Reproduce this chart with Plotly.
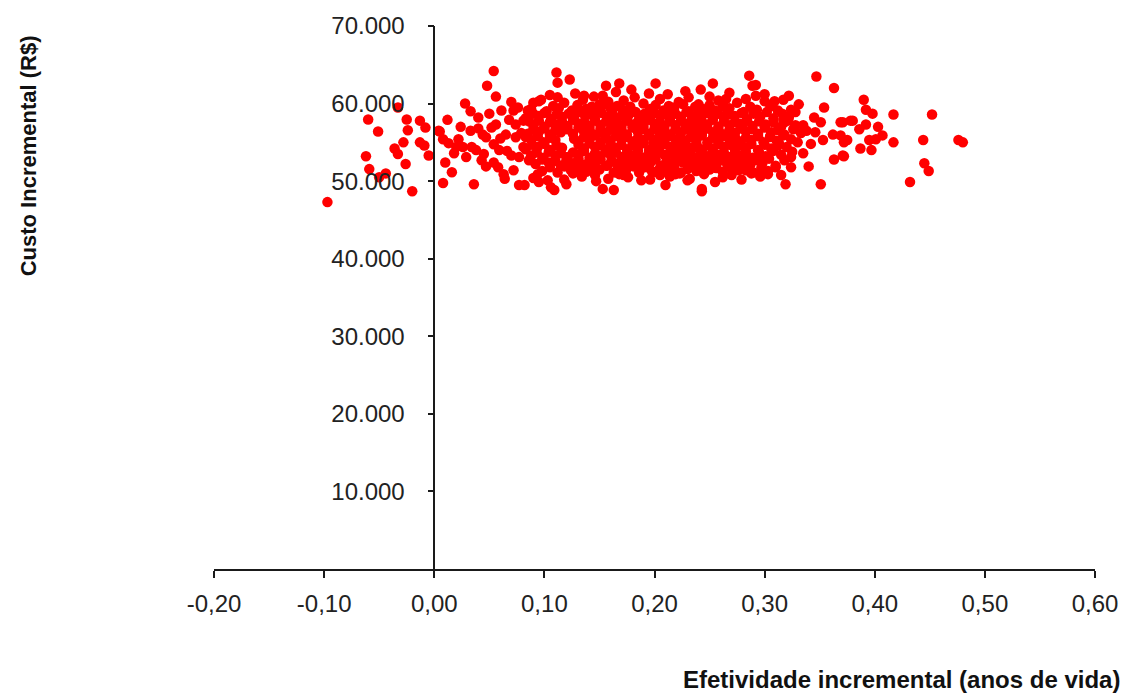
import plotly.graph_objects as go

# Tick labels
x_tickvals = [-0.2, -0.1, 0.0, 0.1, 0.2, 0.3, 0.4, 0.5, 0.6]
x_ticktext = ["-0,20", "-0,10", "0,00", "0,10", "0,20", "0,30", "0,40", "0,50", "0,60"]
y_tickvals = [10000, 20000, 30000, 40000, 50000, 60000, 70000]
y_ticktext = ["10.000", "20.000", "30.000", "40.000", "50.000", "60.000", "70.000"]

# Points with negative / near-zero effectiveness
neg_x = [-0.097, -0.060, -0.062, -0.059, -0.051, -0.050, -0.044, -0.036, -0.033, -0.033,
         -0.028, -0.025, -0.024, -0.026, -0.020, -0.013, -0.013, -0.008, -0.009, -0.005]
neg_y = [47300, 57950, 53200, 51550, 56400, 50500, 51000, 54200, 53500, 59500,
         55000, 57950, 56550, 52200, 48700, 57800, 55000, 56900, 54600, 53300]

# Points between 0 and ~0.085
low_x = [0.004, 0.054, 0.048, 0.056, 0.028, 0.033, 0.040, 0.005, 0.008, 0.013,
         0.022, 0.033, 0.026, 0.029, 0.010, 0.016, 0.008, 0.036, 0.043, 0.038,
         0.047, 0.052, 0.056, 0.061, 0.054, 0.063, 0.072, 0.077, 0.070, 0.059,
         0.072, 0.076, 0.065, 0.074, 0.074, 0.077, 0.081, 0.081, 0.054, 0.044,
         0.034, 0.020, 0.085, 0.082,
         0.045, 0.060, 0.066, 0.068, 0.050, 0.040, 0.058, 0.018, 0.024, 0.064,
         0.079, 0.047, 0.012, 0.070]
low_y = [56500, 64200, 62300, 60900, 60000, 59000, 58200, 56400, 55400, 54900,
         55400, 56500, 54400, 53100, 52400, 51150, 49750, 49600, 52700, 54000,
         55650, 56900, 57300, 59100, 52400, 50900, 51400, 49500, 53300, 54000,
         59100, 59500, 56000, 57300, 55650, 53100, 54400, 57800, 54750, 56000,
         54400, 54400, 59100, 49500,
         53500, 55500, 53900, 57900, 58700, 56800, 51800, 53600, 57000, 50300,
         56200, 51900, 57900, 60200]

# Dense core of the cloud (main rows)
core_x = [
    0.095, 0.118, 0.135, 0.150, 0.172, 0.190, 0.205, 0.222, 0.240, 0.258, 0.275, 0.300,
    0.088, 0.102, 0.113, 0.125, 0.138, 0.148, 0.160, 0.171, 0.183, 0.196, 0.208, 0.218,
    0.231, 0.244, 0.255, 0.268, 0.281, 0.293, 0.312,
    0.083, 0.095, 0.106, 0.116, 0.127, 0.137, 0.146, 0.157, 0.166, 0.176, 0.186, 0.195,
    0.205, 0.214, 0.224, 0.234, 0.243, 0.253, 0.263, 0.273, 0.284, 0.296, 0.308, 0.322,
    0.090, 0.100, 0.110, 0.121, 0.131, 0.141, 0.151, 0.161, 0.170, 0.180, 0.190, 0.200,
    0.209, 0.219, 0.229, 0.238, 0.248, 0.258, 0.268, 0.278, 0.289, 0.301, 0.315, 0.328,
    0.085, 0.095, 0.105, 0.115, 0.126, 0.136, 0.146, 0.156, 0.165, 0.175, 0.185, 0.195,
    0.204, 0.214, 0.224, 0.233, 0.243, 0.253, 0.263, 0.273, 0.283, 0.294, 0.306, 0.318, 0.333,
    0.088, 0.099, 0.110, 0.131, 0.141, 0.151, 0.160, 0.170, 0.180, 0.190, 0.199, 0.209,
    0.219, 0.228, 0.238, 0.248, 0.258, 0.268, 0.278, 0.288, 0.299, 0.311, 0.324,
    0.083, 0.094, 0.105, 0.116, 0.136, 0.146, 0.156, 0.165, 0.175, 0.185, 0.195, 0.204,
    0.214, 0.224, 0.233, 0.243, 0.253, 0.263, 0.273, 0.283, 0.294, 0.306, 0.320,
    0.088, 0.099, 0.110, 0.121, 0.131, 0.141, 0.151, 0.160, 0.170, 0.180, 0.190, 0.199,
    0.209, 0.219, 0.228, 0.238, 0.248, 0.258, 0.268, 0.278, 0.289, 0.301, 0.315,
    0.092, 0.104, 0.115, 0.126, 0.136, 0.146, 0.156, 0.166, 0.176, 0.186, 0.196, 0.206,
    0.216, 0.226, 0.236, 0.246, 0.256, 0.266, 0.276, 0.287, 0.298, 0.310,
    0.098, 0.112, 0.124, 0.138, 0.150, 0.163, 0.174, 0.187, 0.199, 0.212, 0.224, 0.238,
    0.250, 0.262, 0.276, 0.290, 0.303,
    0.090, 0.118, 0.134, 0.158, 0.176, 0.196, 0.214, 0.232, 0.262, 0.279, 0.296,
]
core_y = [
    60300, 60100, 60500, 59900, 60400, 60000, 60600, 60200, 59900, 60400, 60100, 60300,
    59300, 59000, 59400, 59100, 59300, 58900, 59400, 59200, 58900, 59300, 59100, 59500,
    59000, 59300, 59100, 59400, 58900, 59200, 59100,
    58100, 58400, 58000, 58300, 58100, 58400, 58000, 58300, 58100, 58400, 58000, 58200,
    58400, 58000, 58300, 58100, 58400, 58000, 58200, 58400, 58000, 58300, 58100, 58200,
    57300, 57000, 57300, 57100, 57400, 57000, 57200, 57400, 57000, 57300, 57100, 57400,
    57000, 57200, 57400, 57100, 57300, 57000, 57200, 57400, 57100, 57300, 57000, 57200,
    56100, 56400, 56000, 56300, 56100, 56400, 56000, 56200, 56400, 56000, 56300, 56100,
    56400, 56000, 56200, 56400, 56100, 56300, 56000, 56200, 56400, 56100, 56300, 56000, 56200,
    55300, 55000, 55300, 55100, 55400, 55000, 55200, 55400, 55100, 55300, 55000, 55200,
    55400, 55100, 55300, 55000, 55200, 55400, 55100, 55300, 55000, 55200, 55400,
    54100, 54400, 54000, 54300, 54200, 54400, 54000, 54300, 54100, 54400, 54000, 54200,
    54400, 54100, 54300, 54000, 54200, 54400, 54100, 54300, 54000, 54200, 54400,
    53300, 53000, 53300, 53100, 53400, 53000, 53200, 53400, 53100, 53300, 53000, 53200,
    53400, 53100, 53300, 53000, 53200, 53400, 53100, 53300, 53000, 53200, 53400,
    52200, 52400, 52000, 52300, 52100, 52400, 52000, 52200, 52400, 52100, 52300, 52000,
    52200, 52400, 52100, 52300, 52000, 52200, 52400, 52100, 52300, 52000,
    51300, 51100, 51400, 51200, 51500, 51100, 51300, 51500, 51200, 51400, 51100, 51300,
    51500, 51200, 51400, 51100, 51300,
    50400, 50200, 50600, 50300, 50500, 50200, 50600, 50300, 50500, 50200, 50600,
]

# Dense core of the cloud (points lying between the main rows)
core_between = [
    (0.108, 59700), (0.130, 59800), (0.143, 59600), (0.155, 59900), (0.166, 59700),
    (0.178, 59600), (0.201, 59800), (0.213, 59700), (0.226, 59900), (0.237, 59600),
    (0.250, 59800), (0.262, 59700), (0.287, 59600), (0.305, 59800),
    (0.090, 58700), (0.100, 58800), (0.111, 58600), (0.122, 58700), (0.132, 58900),
    (0.142, 58600), (0.152, 58800), (0.162, 58700), (0.171, 58600), (0.181, 58900),
    (0.191, 58700), (0.200, 58800), (0.210, 58600), (0.219, 58700), (0.229, 58900),
    (0.239, 58600), (0.248, 58800), (0.258, 58700), (0.268, 58600), (0.279, 58800),
    (0.290, 58700), (0.302, 58900), (0.316, 58700),
    (0.086, 57700), (0.095, 57800), (0.105, 57600), (0.116, 57700), (0.126, 57900),
    (0.136, 57600), (0.146, 57800), (0.156, 57700), (0.166, 57600), (0.175, 57800),
    (0.185, 57700), (0.195, 57900), (0.205, 57600), (0.214, 57700), (0.224, 57800),
    (0.234, 57600), (0.243, 57700), (0.253, 57900), (0.263, 57700), (0.273, 57600),
    (0.284, 57800), (0.295, 57700), (0.308, 57600), (0.321, 57800),
    (0.090, 56700), (0.100, 56800), (0.110, 56600), (0.121, 56700), (0.131, 56900),
    (0.141, 56600), (0.151, 56800), (0.160, 56700), (0.170, 56600), (0.180, 56900),
    (0.190, 56700), (0.200, 56800), (0.209, 56600), (0.219, 56700), (0.228, 56900),
    (0.238, 56600), (0.248, 56800), (0.258, 56700), (0.268, 56600), (0.278, 56800),
    (0.289, 56700), (0.300, 56900), (0.312, 56600), (0.326, 56700),
    (0.083, 55700), (0.094, 55800), (0.105, 55600), (0.136, 55700), (0.146, 55900),
    (0.156, 55600), (0.165, 55800), (0.175, 55700), (0.185, 55600), (0.195, 55900),
    (0.204, 55700), (0.214, 55800), (0.224, 55600), (0.233, 55700), (0.243, 55900),
    (0.253, 55600), (0.263, 55800), (0.273, 55700), (0.283, 55600), (0.294, 55800),
    (0.305, 55700), (0.317, 55900),
    (0.089, 54700), (0.100, 54800), (0.111, 54600), (0.131, 54700), (0.141, 54900),
    (0.151, 54600), (0.160, 54800), (0.170, 54700), (0.180, 54600), (0.190, 54900),
    (0.199, 54700), (0.209, 54800), (0.219, 54600), (0.228, 54700), (0.238, 54900),
    (0.248, 54600), (0.258, 54800), (0.268, 54700), (0.278, 54600), (0.288, 54800),
    (0.300, 54700), (0.313, 54900),
    (0.093, 53700), (0.104, 53800), (0.115, 53600), (0.126, 53700), (0.136, 53900),
    (0.146, 53600), (0.156, 53800), (0.165, 53700), (0.175, 53600), (0.185, 53900),
    (0.195, 53700), (0.204, 53800), (0.214, 53600), (0.224, 53700), (0.233, 53900),
    (0.243, 53600), (0.253, 53800), (0.263, 53700), (0.273, 53600), (0.283, 53800),
    (0.295, 53700), (0.308, 53900),
    (0.086, 52700), (0.098, 52800), (0.110, 52600), (0.120, 52700), (0.131, 52900),
    (0.141, 52600), (0.151, 52800), (0.161, 52700), (0.171, 52600), (0.181, 52900),
    (0.191, 52700), (0.201, 52800), (0.211, 52600), (0.221, 52700), (0.231, 52900),
    (0.241, 52600), (0.251, 52800), (0.261, 52700), (0.271, 52600), (0.282, 52800),
    (0.293, 52700), (0.304, 52900), (0.318, 52700),
    (0.105, 51800), (0.118, 51900), (0.131, 51700), (0.144, 51800), (0.157, 52000),
    (0.169, 51700), (0.181, 51900), (0.193, 51800), (0.205, 51700), (0.218, 51900),
    (0.231, 51800), (0.244, 52000), (0.256, 51700), (0.269, 51800), (0.283, 51900),
    (0.297, 51700), (0.310, 51800),
    (0.094, 50900), (0.126, 51000), (0.146, 50800), (0.168, 50900), (0.186, 51100),
    (0.205, 50800), (0.223, 51000), (0.245, 50900), (0.270, 50800), (0.288, 51000),
]

# Extra points filling small holes in the densest part
core_fill = [
    (0.152, 56250), (0.171, 55650), (0.188, 57150), (0.207, 56150), (0.226, 55250),
    (0.244, 57250), (0.161, 54250), (0.183, 53250), (0.202, 54750), (0.221, 53650),
    (0.240, 54250), (0.259, 56250), (0.176, 58750), (0.196, 58250), (0.216, 59250),
    (0.236, 58250), (0.255, 53250), (0.272, 55250), (0.145, 52650), (0.166, 52150),
    (0.187, 51650), (0.211, 52250), (0.230, 51550), (0.251, 52350), (0.139, 57250),
    (0.127, 55450), (0.118, 56750), (0.280, 57250), (0.266, 58650), (0.158, 60250),
]

# Upper and lower fringe of the cloud
fringe_x = [0.111, 0.112, 0.123, 0.156, 0.168, 0.179, 0.112, 0.097, 0.090, 0.136,
            0.153, 0.109, 0.106, 0.153, 0.163, 0.103, 0.120, 0.095, 0.147, 0.172,
            0.127, 0.201, 0.253, 0.286, 0.289, 0.242, 0.195, 0.265, 0.231, 0.283,
            0.210, 0.243, 0.243, 0.255, 0.230, 0.188, 0.219, 0.198, 0.283,
            0.128, 0.145, 0.165, 0.182, 0.212, 0.228, 0.250, 0.268, 0.292, 0.105]
fringe_y = [64000, 62700, 63100, 62300, 62600, 61800, 60800, 60500, 60100, 61000,
            61000, 48850, 49200, 49000, 48850, 50100, 49600, 49900, 50000, 50800,
            51150, 62600, 62600, 63600, 62300, 61800, 61300, 60600, 60800, 60600,
            49500, 49000, 48700, 49900, 50100, 50100, 50900, 51150, 51400,
            61300, 60900, 61500, 60800, 61200, 61600, 60900, 61400, 61000, 61100]

# Right-hand, sparser part of the cloud
right_x = [0.347, 0.363, 0.292, 0.390, 0.392, 0.354, 0.351, 0.335, 0.346, 0.353,
           0.362, 0.369, 0.378, 0.386, 0.392, 0.369, 0.375, 0.387, 0.372, 0.363,
           0.340, 0.351, 0.319, 0.315, 0.303, 0.324, 0.324, 0.331, 0.317, 0.324,
           0.317, 0.307, 0.398, 0.417, 0.452, 0.380, 0.371, 0.403, 0.407, 0.401,
           0.395, 0.372, 0.417, 0.444, 0.476, 0.480, 0.397, 0.371, 0.445, 0.449,
           0.432, 0.305, 0.312, 0.318, 0.325, 0.330, 0.338, 0.335, 0.342, 0.345,
           0.328, 0.309, 0.300, 0.322]
right_y = [63500, 62000, 62400, 60500, 59200, 59500, 57600, 57200, 56300, 55300,
           56000, 57600, 57800, 56700, 57300, 55900, 55300, 54200, 53200, 52800,
           51900, 49600, 49600, 50800, 50900, 51800, 53100, 59900, 60500, 59200,
           57900, 59700, 58700, 58600, 58600, 57800, 57600, 57000, 55900, 55400,
           55300, 55000, 55000, 55300, 55300, 55000, 54000, 53300, 52300, 51300,
           49900, 55800, 54600, 57600, 53800, 55000, 56500, 53600, 54800, 58200,
           58900, 60300, 61200, 61000]

between_x = [p[0] for p in core_between] + [p[0] for p in core_fill]
between_y = [p[1] for p in core_between] + [p[1] for p in core_fill]

xs = neg_x + low_x + core_x + between_x + fringe_x + right_x
ys = neg_y + low_y + core_y + between_y + fringe_y + right_y

FONT = "Liberation Sans, Arial, sans-serif"

fig = go.Figure()
fig.add_trace(go.Scatter(
    x=xs, y=ys, mode="markers",
    marker=dict(size=10.5, color="#FF0000", line=dict(width=0)),
    showlegend=False, hoverinfo="skip",
))

fig.update_layout(
    width=1131, height=695,
    margin=dict(l=214, r=36, t=23, b=126),
    paper_bgcolor="white", plot_bgcolor="white",
    font=dict(family=FONT, size=24, color="#222"),
    xaxis=dict(
        range=[-0.2, 0.6], tickvals=x_tickvals, ticktext=x_ticktext,
        showline=True, linecolor="#1a1a1a", linewidth=1.5,
        ticks="outside", ticklen=7, tickwidth=1.5, tickcolor="#1a1a1a",
        showgrid=False, zeroline=False, ticklabelstandoff=5,
        tickfont=dict(family=FONT, size=24, color="#222"),
    ),
    yaxis=dict(
        range=[0, 70000], tickvals=y_tickvals, ticktext=y_ticktext,
        anchor="free", position=0.25,
        showline=True, linecolor="#1a1a1a", linewidth=1.5,
        ticks="outside", ticklen=6, tickwidth=1.5, tickcolor="#1a1a1a",
        showgrid=False, zeroline=False, ticklabelstandoff=18,
        tickfont=dict(family=FONT, size=24, color="#222"),
    ),
    annotations=[
        dict(text="<b>Efetividade incremental (anos de vida)</b>",
             xref="paper", yref="paper", x=1.0306, y=-0.2033,
             xanchor="right", yanchor="middle", showarrow=False,
             font=dict(family=FONT, size=24, color="#111")),
        dict(text="<b>Custo Incremental (R$)</b>",
             xref="paper", yref="paper", x=-0.2111, y=0.760,
             xanchor="center", yanchor="middle", textangle=-90, showarrow=False,
             font=dict(family=FONT, size=22, color="#111")),
    ],
)

fig.write_html(
    "out.html",
    config={"displayModeBar": False},
    post_script="document.body.style.margin='0';document.body.style.padding='0';document.body.style.overflow='hidden';",
)
